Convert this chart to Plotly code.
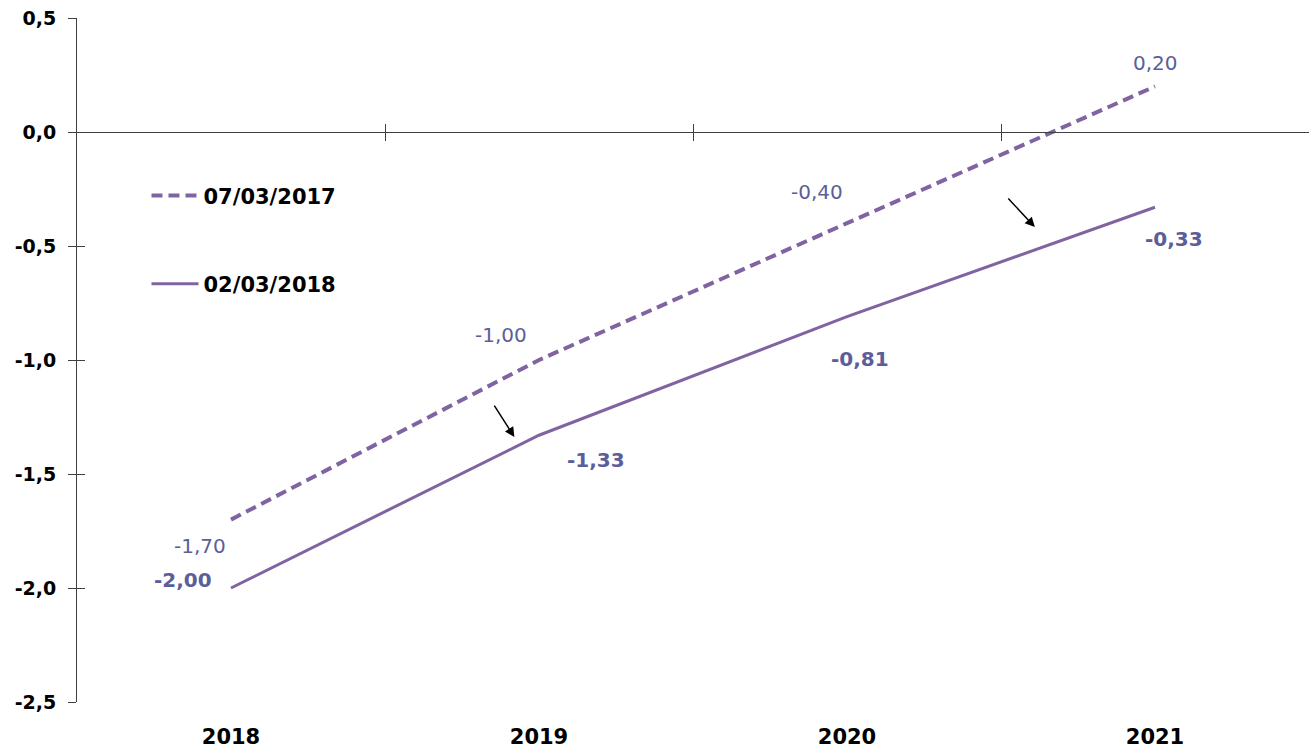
import plotly.graph_objects as go

# Dados
anos = ["2018", "2019", "2020", "2021"]
serie_2017 = [-1.70, -1.00, -0.40, 0.20]   # 07/03/2017 (tracejada)
serie_2018 = [-2.00, -1.33, -0.81, -0.33]  # 02/03/2018 (contínua)
nomes = ["07/03/2017", "02/03/2018"]
y_ticks = [0.5, 0.0, -0.5, -1.0, -1.5, -2.0, -2.5]

x = list(range(len(anos)))
roxo = "#8064A2"
cor_rot = "#5B5E99"
fonte = "DejaVu Sans"

fig = go.Figure()
fig.add_trace(go.Scatter(x=x, y=serie_2017, mode="lines", name=nomes[0],
                         line=dict(color=roxo, width=4, dash="11px,6px"), legendgroup="a"))
fig.add_trace(go.Scatter(x=x, y=serie_2018, mode="lines", name=nomes[1],
                         line=dict(color=roxo, width=3), legendgroup="b"))

# rótulos de dados (deslocamentos em px)
desl_2017 = [(-31, -26), (-38, 25), (-30, 31), (0, 23)]
desl_2018 = [(-48, 8), (57, -25), (13, -42), (19, -32)]
for i, v in enumerate(serie_2017):
    fig.add_annotation(x=x[i], y=v, text=f"{v:.2f}".replace(".", ","), showarrow=False,
                       xshift=desl_2017[i][0], yshift=desl_2017[i][1],
                       font=dict(family=fonte, size=20, color=cor_rot))
for i, v in enumerate(serie_2018):
    fig.add_annotation(x=x[i], y=v, text=f"<b>{v:.2f}</b>".replace(".", ","), showarrow=False,
                       xshift=desl_2018[i][0], yshift=desl_2018[i][1],
                       font=dict(family=fonte, size=20, color=cor_rot))

# setas
fig.add_annotation(x=0.92, y=-1.338, ax=-21, ay=-33, showarrow=True, arrowhead=2,
                   arrowsize=1.3, arrowwidth=1.5, arrowcolor="black", text="")
fig.add_annotation(x=2.61, y=-0.417, ax=-28, ay=-30, showarrow=True, arrowhead=2,
                   arrowsize=1.3, arrowwidth=1.5, arrowcolor="black", text="")

pos_zero = (0 - y_ticks[-1]) / (y_ticks[0] - y_ticks[-1])
eixo_x = dict(range=[-0.5, 3.5], showgrid=False, zeroline=False, fixedrange=True, automargin=False)

fig.update_layout(
    width=1309, height=748,
    margin=dict(l=77, r=0, t=18, b=46),
    plot_bgcolor="white", paper_bgcolor="white",
    showlegend=True,
    legend=dict(x=0.0564, y=0.770, xanchor="left", yanchor="top", tracegroupgap=58,
                itemwidth=47, bgcolor="rgba(0,0,0,0)",
                font=dict(family=fonte, size=21, color="black", weight="bold")),
    xaxis=dict(**eixo_x, anchor="free", position=pos_zero, showline=True, linecolor="#404040",
               linewidth=1, tickmode="array", tickvals=[0.5, 1.5, 2.5], ticks="outside",
               ticklen=8, tickcolor="#404040", showticklabels=False),
    xaxis3=dict(**eixo_x, overlaying="x", anchor="free", position=pos_zero, showline=False,
                tickmode="array", tickvals=[0.5, 1.5, 2.5], ticks="inside", ticklen=8,
                tickcolor="#404040", showticklabels=False),
    xaxis2=dict(**eixo_x, overlaying="x", anchor="y", side="bottom", showline=False,
                tickmode="array", tickvals=x, ticktext=anos, ticks="",
                ticklabelstandoff=20,
                tickfont=dict(family=fonte, size=21, color="black", weight="bold")),
    yaxis=dict(range=[y_ticks[-1], y_ticks[0]], showgrid=False, zeroline=False, showline=True,
               linecolor="#404040", linewidth=1, tickmode="array", tickvals=y_ticks,
               ticktext=[f"{t:.1f}".replace(".", ",") for t in y_ticks],
               ticks="outside", ticklen=8, tickcolor="#404040",
               ticklabelstandoff=8, fixedrange=True, automargin=False,
               tickfont=dict(family=fonte, size=19, color="black", weight="bold")),
    yaxis2=dict(range=[y_ticks[-1], y_ticks[0]], overlaying="y", anchor="x", showgrid=False,
                zeroline=False, showline=False, tickmode="array", tickvals=y_ticks,
                ticks="inside", ticklen=8, tickcolor="#404040", showticklabels=False,
                automargin=False),
)

# traços invisíveis para ativar os eixos auxiliares
fig.add_trace(go.Scatter(x=[None], y=[None], xaxis="x2", yaxis="y2", showlegend=False, hoverinfo="skip"))
fig.add_trace(go.Scatter(x=[None], y=[None], xaxis="x3", yaxis="y", showlegend=False, hoverinfo="skip"))

fig.write_html("out.html", config={"displayModeBar": False},
               post_script="document.body.style.margin='0px';")
